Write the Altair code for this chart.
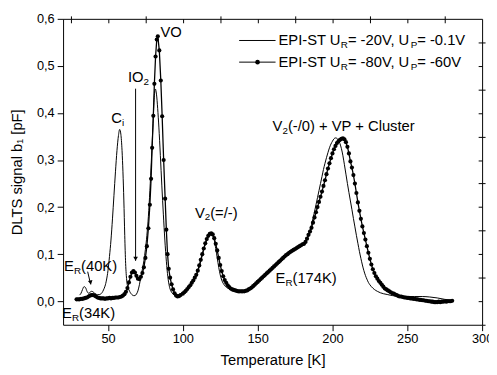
import math
import altair as alt
import pandas as pd

# ---------------- data ----------------
T_solid = [31, 32, 33, 34, 35, 36, 37, 38, 39, 40, 41, 42, 43, 44, 45, 46, 47, 48, 49, 50,
           51, 52, 53, 54, 55, 56, 57, 57.8, 58.6, 59.4, 60, 60.6, 61.2, 61.8, 62.5, 63.2,
           64, 65, 66, 67, 68, 69, 70, 71, 72, 73, 74, 75, 76, 77, 78, 79, 80, 80.8, 81.6,
           82.4, 83.2, 84, 85, 86, 87, 88, 89, 90, 91, 92, 93, 94, 95, 96, 98, 100, 102, 104,
           106, 108, 110, 112, 114, 116, 117, 118, 119, 120, 121, 122, 123, 124, 125, 126,
           127, 128, 130, 132, 135, 140, 145, 150, 155, 160, 165, 170, 175, 180, 182, 183,
           184, 185, 186, 187, 188, 189, 190, 191, 192, 193, 194, 195, 196, 197, 198, 199,
           200, 201, 202, 203, 204, 205, 206, 207, 208, 209, 210, 211, 212, 213, 214, 215,
           216, 217, 218, 219, 220, 221, 222, 223, 224, 225, 226, 228, 230, 232, 234, 237,
           240, 245, 250, 255, 260, 265, 270, 275, 280]
V_solid = [0.013, 0.017, 0.025, 0.031, 0.029, 0.021, 0.017, 0.019, 0.021, 0.020, 0.017, 0.015,
           0.014, 0.014, 0.015, 0.018, 0.024, 0.032, 0.045, 0.065, 0.095, 0.130, 0.175, 0.225,
           0.275, 0.320, 0.352, 0.365, 0.355, 0.320, 0.275, 0.215, 0.140, 0.080, 0.045, 0.030,
           0.024, 0.018, 0.014, 0.012, 0.012, 0.015, 0.022, 0.035, 0.052, 0.068, 0.086, 0.110,
           0.140, 0.180, 0.235, 0.300, 0.370, 0.428, 0.451, 0.440, 0.410, 0.370, 0.310, 0.245,
           0.185, 0.130, 0.085, 0.052, 0.032, 0.022, 0.017, 0.014, 0.013, 0.013, 0.015, 0.018,
           0.022, 0.029, 0.037, 0.048, 0.063, 0.085, 0.110, 0.130, 0.137, 0.141, 0.143, 0.140,
           0.130, 0.112, 0.092, 0.072, 0.056, 0.045, 0.038, 0.033, 0.028, 0.025, 0.022, 0.021,
           0.027, 0.041, 0.056, 0.071, 0.086, 0.100, 0.111, 0.121, 0.127, 0.133, 0.142, 0.152,
           0.163, 0.176, 0.190, 0.205, 0.220, 0.235, 0.250, 0.265, 0.280, 0.293, 0.305, 0.316,
           0.326, 0.334, 0.340, 0.345, 0.347, 0.346, 0.342, 0.335, 0.324, 0.309, 0.290, 0.270,
           0.250, 0.231, 0.213, 0.195, 0.176, 0.158, 0.140, 0.123, 0.106, 0.091, 0.077, 0.065,
           0.055, 0.047, 0.040, 0.035, 0.031, 0.025, 0.021, 0.018, 0.016, 0.014, 0.012, 0.011,
           0.010, 0.010, 0.010, 0.009, 0.007, 0.004, 0.002]

T_dots = [29, 30, 31, 32, 33, 34, 35, 36, 37, 38, 39, 40, 41, 42, 43, 44, 45, 46, 47, 48, 49,
          50, 51, 52, 53, 54, 55, 56, 57, 58, 59, 60, 61, 62, 63, 64, 65, 66, 67, 68, 69, 70,
          71, 72, 73, 74, 75, 76, 77,
          78, 78.8, 79.5, 80.3, 81, 81.8, 82.6, 83.3, 84.3, 85.3, 86.2, 87.2, 88.2, 89, 89.8,
          90.6, 91.5, 92.5, 93.5, 94.5, 95.5, 96.5, 97.5, 98.5,
          100, 101, 102, 103, 104, 105, 106, 107, 108, 109, 110, 111, 112, 113, 114, 115, 116,
          117, 118, 119, 120, 121, 122, 123, 124, 125, 126, 127, 128, 129, 130, 131, 132, 133,
          134, 135, 136, 137, 138, 139, 140, 141, 142, 143, 144, 145, 146, 147, 148, 149, 150,
          151, 152, 153, 154, 155, 156, 157, 158, 159, 160, 161, 162, 163, 164, 165, 166, 167,
          168, 169, 170, 171, 172, 173, 174, 175, 176, 177, 178, 179, 180, 181, 182, 183, 184,
          185, 186, 187, 188, 189, 190, 191, 192, 193, 194, 195, 196, 197, 198, 199, 200, 201,
          202, 203, 204, 205, 206, 207, 208, 209, 210, 211, 212, 213, 214, 215, 216, 217, 218,
          219, 220, 221, 222, 223, 224, 225, 226, 227, 228, 229, 230, 231, 232, 233, 234, 235,
          236, 237, 238, 239, 240, 241, 242, 243, 244, 245, 246, 247, 248, 249, 250, 251, 252,
          253, 254, 255, 256, 257, 258, 259, 260, 261, 262, 263, 264, 265, 266, 267, 268, 269,
          270, 271, 272, 273, 274, 275, 276, 277, 278, 279, 280]
V_dots = [0.004, 0.004, 0.004, 0.005, 0.005, 0.006, 0.007, 0.008, 0.010, 0.012, 0.013, 0.013,
          0.012, 0.010, 0.008, 0.007, 0.006, 0.006, 0.006, 0.005, 0.006, 0.006, 0.007, 0.006,
          0.007, 0.007, 0.008, 0.008, 0.008, 0.009, 0.010, 0.012, 0.015, 0.020, 0.028, 0.040,
          0.052, 0.061, 0.064, 0.061, 0.054, 0.048, 0.047, 0.052, 0.060, 0.072, 0.092, 0.117,
          0.155,
          0.205, 0.260, 0.326, 0.394, 0.462, 0.520, 0.556, 0.563, 0.533, 0.469, 0.393, 0.300,
          0.218, 0.152, 0.100, 0.069, 0.050, 0.036, 0.025, 0.017, 0.012, 0.010, 0.011, 0.013,
          0.016, 0.019, 0.022, 0.026, 0.030, 0.034, 0.039, 0.044, 0.050, 0.056, 0.065, 0.076,
          0.088, 0.100, 0.112, 0.123, 0.132, 0.139, 0.143, 0.144, 0.142, 0.134, 0.122, 0.108,
          0.092, 0.077, 0.064, 0.053, 0.045, 0.039, 0.034, 0.030, 0.027, 0.025, 0.024, 0.023,
          0.022, 0.021, 0.021, 0.021, 0.021, 0.021, 0.022, 0.023, 0.025, 0.027, 0.029, 0.032,
          0.035, 0.038, 0.041, 0.044, 0.047, 0.050, 0.053, 0.056, 0.059, 0.062, 0.065, 0.068,
          0.071, 0.074, 0.077, 0.080, 0.083, 0.086, 0.089, 0.092, 0.095, 0.098, 0.100, 0.103,
          0.105, 0.107, 0.109, 0.111, 0.113, 0.115, 0.117, 0.119, 0.121, 0.122, 0.126, 0.133,
          0.141, 0.148, 0.156, 0.167, 0.178, 0.189, 0.200, 0.211, 0.222, 0.233, 0.245, 0.257,
          0.270, 0.282, 0.293, 0.304, 0.314, 0.323, 0.330, 0.336, 0.340, 0.343, 0.345, 0.346,
          0.344, 0.338, 0.328, 0.314, 0.297, 0.284, 0.268, 0.250, 0.230, 0.210, 0.192, 0.175,
          0.159, 0.145, 0.131, 0.117, 0.103, 0.090, 0.078, 0.068, 0.060, 0.053, 0.048, 0.043,
          0.039, 0.035, 0.031, 0.027, 0.025, 0.023, 0.021, 0.019, 0.017, 0.016, 0.014, 0.013,
          0.011, 0.010, 0.010, 0.009, 0.008, 0.008, 0.007, 0.007, 0.006, 0.006, 0.005, 0.005,
          0.004, 0.004, 0.003, 0.003, 0.002, 0.002, 0.001, 0.001, 0.000, 0.000, -0.001, -0.001,
          -0.002, -0.002, -0.002, -0.001, -0.002, -0.001, -0.001, 0.000, -0.001, 0.000, 0.000,
          0.000, 0.001]

X_MAJOR = [50, 100, 150, 200, 250, 300]
X_MINOR = [25, 75, 125, 175, 225, 275]
X_TOP = [25, 50, 75, 100, 125, 150, 175, 200, 225, 250, 275]
Y_MAJOR = [0.0, 0.1, 0.2, 0.3, 0.4, 0.5, 0.6]
Y_MINOR = [-0.05, 0.05, 0.15, 0.25, 0.35, 0.45, 0.55]
Y_RIGHT = [0.0, 0.05, 0.1, 0.15, 0.2, 0.25, 0.3, 0.35, 0.4, 0.45, 0.5, 0.55]

LEG1 = [("EPI-ST U", 0), ("R", 1), ("= -20V, U", 0), ("P", 1), ("= -0.1V", 0)]
LEG2 = [("EPI-ST U", 0), ("R", 1), ("= -80V, U", 0), ("P", 1), ("= -60V", 0)]

# ---------------- layout helpers ----------------
W, H = 426, 311
XD = [20, 300]
YD = [-0.05, 0.6]
FONT = "Liberation Sans, Arial, Helvetica, sans-serif"


def px2T(px):
    return XD[0] + (px - 64) * (XD[1] - XD[0]) / W


def py2v(py):
    return YD[1] - (py - 16) * (YD[1] - YD[0]) / H


AW = {' ': 278, '(': 333, ')': 333, '+': 584, ',': 278, '-': 333, '.': 278, '/': 278,
      '=': 584, '[': 278, ']': 278, 'C': 722, 'E': 667, 'I': 278, 'K': 667, 'O': 778,
      'P': 667, 'R': 722, 'S': 667, 'T': 611, 'U': 722, 'V': 667, 'e': 556, 'i': 222,
      'l': 222, 'r': 333, 's': 500, 't': 278, 'u': 556}


def tw(s, fs):
    return sum(AW.get(c, 556) for c in s) * fs / 1000.0


def segs(parts, px, py, fs=15, sfs=10, sdy=5):
    rows = []
    x = px
    for text, sub in parts:
        size = sfs if sub else fs
        rows.append({"T": px2T(x), "v": py2v(py + (sdy if sub else 0)),
                     "text": text, "fs": size})
        x += tw(text, size)
    return rows


ANNOT = [
    ([("VO", 0)], 163, 29),
    ([("IO", 0), ("2", 1)], 130, 75),
    ([("C", 0), ("i", 1)], 113, 117),
    ([("V", 0), ("2", 1), ("(=/-)", 0)], 198, 213),
    ([("V", 0), ("2", 1), ("(-/0) + VP + Cluster", 0)], 277, 125),
    ([("E", 0), ("R", 1), ("(40K)", 0)], 65, 267),
    ([("E", 0), ("R", 1), ("(34K)", 0)], 63, 315),
    ([("E", 0), ("R", 1), ("(174K)", 0)], 280, 280),
]

text_rows = []
for parts, px, py in ANNOT:
    text_rows += segs(parts, px, py)
text_rows += segs(LEG1, 283, 38)
text_rows += segs(LEG2, 283, 60)
df_text = pd.DataFrame(text_rows)

df_solid = pd.DataFrame({"T": T_solid, "v": V_solid})
df_dots = pd.DataFrame({"T": T_dots, "v": V_dots})

# arrows (pixel anchor positions converted to data units)
ARROWS = [((137.7, 87), (137.7, 262)), ((89, 273), (92, 286))]
arrow_rows, head_rows = [], []
for (x0, y0), (x1, y1) in ARROWS:
    arrow_rows.append({"T": px2T(x0), "v": py2v(y0), "T2": px2T(x1), "v2": py2v(y1)})
    ang = math.degrees(math.atan2(x1 - x0, y1 - y0))
    head_rows.append({"T": px2T(x1), "v": py2v(y1), "ang": (360 - ang) % 360})
df_arrow = pd.DataFrame(arrow_rows)
df_head = pd.DataFrame(head_rows)

df_legline = pd.DataFrame({"T": [px2T(243), px2T(243)], "T2": [px2T(280), px2T(280)],
                           "v": [py2v(38), py2v(60)]})
df_legdot = pd.DataFrame({"T": [px2T(261.7)], "v": [py2v(60)]})

xs = alt.Scale(domain=XD, nice=False, zero=False)
ys = alt.Scale(domain=YD, nice=False, zero=False)

LBL_Y = "replace(format(datum.value, '.1f'), '.', ',')"

ax_x_main = alt.Axis(values=X_MAJOR, tickSize=6, title="Temperature [K]", format="d",
                     labelPadding=2, titlePadding=7, labelFlush=False)
ax_y_main = alt.Axis(values=Y_MAJOR, tickSize=6, title="DLTS signal b\u2081 [pF]",
                     labelExpr=LBL_Y, labelPadding=3, titlePadding=12, labelFlush=False)
ax_x_minor = alt.Axis(values=X_MINOR, tickSize=3, labels=False, title=None)
ax_y_minor = alt.Axis(values=Y_MINOR, tickSize=3, labels=False, title=None)
ax_x_top = alt.Axis(values=X_TOP, tickSize=4, labels=False, title=None, orient="bottom",
                    offset=-H)
ax_y_right = alt.Axis(values=Y_RIGHT, tickSize=4, labels=False, title=None, orient="left",
                      offset=-W)

solid = alt.Chart(df_solid).mark_line(color="black", strokeWidth=1,
                                      interpolate="monotone").encode(
    x=alt.X("T:Q", scale=xs, axis=ax_x_main),
    y=alt.Y("v:Q", scale=ys, axis=ax_y_main),
)
dotline = alt.Chart(df_dots).mark_line(color="black", strokeWidth=1.3).encode(
    x=alt.X("T:Q", scale=xs, axis=ax_x_minor),
    y=alt.Y("v:Q", scale=ys, axis=ax_y_minor),
)
dots = alt.Chart(df_dots).mark_circle(color="black", size=18, opacity=1).encode(
    x=alt.X("T:Q", scale=xs, axis=ax_x_top),
    y=alt.Y("v:Q", scale=ys, axis=ax_y_right),
)
texts = alt.Chart(df_text).mark_text(align="left", baseline="middle", font=FONT,
                                     color="black").encode(
    x=alt.X("T:Q", scale=xs, axis=None),
    y=alt.Y("v:Q", scale=ys, axis=None),
    text="text:N",
    size=alt.Size("fs:Q", scale=None, legend=None),
)
arrows = alt.Chart(df_arrow).mark_rule(color="black", strokeWidth=1).encode(
    x=alt.X("T:Q", scale=xs, axis=None), x2="T2:Q",
    y=alt.Y("v:Q", scale=ys, axis=None), y2="v2:Q",
)
heads = alt.Chart(df_head).mark_point(shape="triangle-down", filled=True, color="black",
                                      size=22, opacity=1, yOffset=-2).encode(
    x=alt.X("T:Q", scale=xs, axis=None),
    y=alt.Y("v:Q", scale=ys, axis=None),
    angle=alt.Angle("ang:Q", scale=None),
)
legline = alt.Chart(df_legline).mark_rule(color="black", strokeWidth=1).encode(
    x=alt.X("T:Q", scale=xs, axis=None), x2="T2:Q",
    y=alt.Y("v:Q", scale=ys, axis=None),
)
legdot = alt.Chart(df_legdot).mark_circle(color="black", size=22, opacity=1).encode(
    x=alt.X("T:Q", scale=xs, axis=None),
    y=alt.Y("v:Q", scale=ys, axis=None),
)

chart = alt.layer(solid, dotline, dots, texts, arrows, heads, legline, legdot).resolve_axis(
    x="independent", y="independent"
).properties(
    width=W, height=H,
    autosize=alt.AutoSizeParams(type="none"),
    padding={"left": 56, "top": 8, "right": 7, "bottom": 45},
).configure_view(
    stroke="black", strokeWidth=1
).configure_axis(
    domain=False, grid=False, tickColor="black", labelColor="black", titleColor="black",
    labelFont=FONT, titleFont=FONT, labelFontSize=13, titleFontSize=15,
    titleFontWeight="normal", tickWidth=1,
)

chart.save("out.html", embed_options={"renderer": "svg", "actions": False})
